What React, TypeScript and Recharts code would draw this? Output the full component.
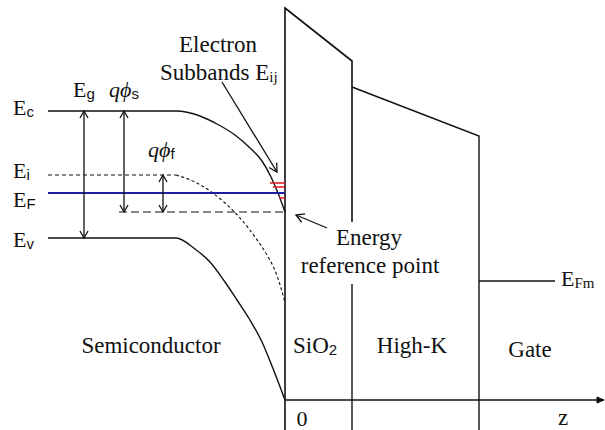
import { ComposedChart, Line, Scatter, XAxis, YAxis } from "recharts"

type Pt = { x: number; y: number }

// Band edges (x = depth, y = energy, both in px of the 605x430 frame)
const EC_BAND: Pt[] = [
  { x: 48, y: 111 }, { x: 176, y: 111 }, { x: 200, y: 116 }, { x: 217, y: 124 },
  { x: 235, y: 135 }, { x: 250, y: 148 }, { x: 262, y: 161 }, { x: 271, y: 177 },
  { x: 278, y: 193 }, { x: 285, y: 212 },
]
const EI_FLAT: Pt[] = [{ x: 48, y: 175 }, { x: 176, y: 175 }]
const EI_BEND: Pt[] = [
  { x: 176, y: 175 }, { x: 195, y: 182 }, { x: 210, y: 191 }, { x: 225, y: 203 },
  { x: 240, y: 218 }, { x: 255, y: 237 }, { x: 267, y: 255 }, { x: 276, y: 273 },
  { x: 281, y: 288 }, { x: 285, y: 303 },
]
const EF_LEVEL: Pt[] = [{ x: 48, y: 193 }, { x: 285, y: 193 }]
const EV_BAND: Pt[] = [
  { x: 48, y: 238 }, { x: 176, y: 238 }, { x: 195, y: 249 }, { x: 210, y: 262 },
  { x: 225, y: 282 }, { x: 237, y: 300 }, { x: 250, y: 320 }, { x: 262, y: 342 },
  { x: 272, y: 366 }, { x: 279, y: 384 }, { x: 285, y: 400 },
]
const SURFACE_REF: Pt[] = [{ x: 119, y: 212 }, { x: 285, y: 212 }]
const SUBBANDS: Pt[][] = [
  [{ x: 270, y: 183 }, { x: 285, y: 183 }],
  [{ x: 273, y: 187 }, { x: 285, y: 187 }],
  [{ x: 279, y: 198 }, { x: 285, y: 198 }],
]

// Gate stack outline
const INTERFACE: Pt[] = [{ x: 285, y: 430 }, { x: 285, y: 8 }, { x: 352, y: 61 }, { x: 352, y: 222 }]
const SIO2_HIGHK_LOW: Pt[] = [{ x: 352, y: 284 }, { x: 352, y: 430 }]
const HIGHK_TOP: Pt[] = [{ x: 352, y: 87 }, { x: 479, y: 136 }, { x: 479, y: 430 }]
const EFM_LEVEL: Pt[] = [{ x: 479, y: 281 }, { x: 555, y: 281 }]
const Z_AXIS: Pt[] = [{ x: 285, y: 400 }, { x: 604, y: 400 }]

// Arrows
const EG_ARROW: Pt[] = [{ x: 84, y: 111 }, { x: 84, y: 238 }]
const PHIS_ARROW: Pt[] = [{ x: 124, y: 111 }, { x: 124, y: 212 }]
const PHIF_ARROW: Pt[] = [{ x: 163, y: 175 }, { x: 163, y: 212 }]
const SUBBAND_POINTER: Pt[] = [{ x: 222, y: 82 }, { x: 277, y: 172 }]
const REF_POINTER: Pt[] = [{ x: 327, y: 228 }, { x: 296, y: 215 }]

type Lbl = {
  x: number
  y: number
  main: string
  sub?: string
  italic?: boolean
  subSans?: boolean
  anchor?: "start" | "middle"
  size?: number
}

const LABELS: Lbl[] = [
  { x: 13, y: 115, main: "E", sub: "c", subSans: true },
  { x: 73, y: 97, main: "E", sub: "g", subSans: true },
  { x: 109, y: 97, main: "qϕ", sub: "s", italic: true, subSans: true },
  { x: 148, y: 157, main: "qϕ", sub: "f", italic: true, subSans: true },
  { x: 13, y: 178, main: "E", sub: "i", subSans: true },
  { x: 13, y: 207, main: "E", sub: "F", subSans: true },
  { x: 13, y: 247, main: "E", sub: "v", subSans: true },
  { x: 218, y: 52, main: "Electron", anchor: "middle", size: 23 },
  { x: 160, y: 80, main: "Subbands E", sub: "ij", size: 23 },
  { x: 369, y: 245, main: "Energy", anchor: "middle", size: 23 },
  { x: 370, y: 273, main: "reference point", anchor: "middle", size: 23 },
  { x: 561, y: 286, main: "E", sub: "Fm" },
  { x: 151, y: 353, main: "Semiconductor", anchor: "middle", size: 23 },
  { x: 293, y: 353, main: "SiO", sub: "2", subSans: true, size: 23 },
  { x: 412, y: 353, main: "High-K", anchor: "middle", size: 23 },
  { x: 530, y: 357, main: "Gate", anchor: "middle", size: 23 },
  { x: 302, y: 426, main: "0", anchor: "middle" },
  { x: 563, y: 425, main: "z", anchor: "middle", size: 23 },
]

const INK = "#111"
const SERIF = '"Liberation Serif", "DejaVu Serif", serif'
const SANS = '"Liberation Sans", "DejaVu Sans", sans-serif'

// dot renderer that puts an arrow head on the chosen ends of a 2+ point line
function arrowDot(pts: Pt[], start: boolean, end: boolean, filled = false, len = 7, half = 4) {
  return (props: any) => {
    const { cx, cy, index } = props
    const key = `arrow-${index}`
    const last = pts.length - 1
    const atStart = start && index === 0
    const atEnd = end && index === last
    if (!atStart && !atEnd) return <g key={key} />
    const from = atEnd ? pts[last - 1] : pts[1]
    const to = atEnd ? pts[last] : pts[0]
    const a = Math.atan2(to.y - from.y, to.x - from.x)
    const bx = cx - len * Math.cos(a)
    const by = cy - len * Math.sin(a)
    const px = -Math.sin(a) * half
    const py = Math.cos(a) * half
    const d = `M${bx + px},${by + py} L${cx},${cy} L${bx - px},${by - py}`
    return filled ? (
      <path key={key} d={d + " Z"} fill={INK} stroke={INK} strokeWidth={1} />
    ) : (
      <path key={key} d={d} fill="none" stroke={INK} strokeWidth={1.3} />
    )
  }
}

const renderLabel = (p: any) => {
  const d = p.payload as Lbl
  const size = d.size ?? 22
  return (
    <text
      x={p.cx}
      y={p.cy}
      textAnchor={d.anchor ?? "start"}
      style={{ fontFamily: SERIF, fontSize: size, fontStyle: d.italic ? "italic" : "normal" }}
      fill={INK}
    >
      {d.main}
      {d.sub && (
        <tspan
          dy={2}
          style={{
            fontSize: d.subSans ? 15 : 15,
            fontFamily: d.subSans ? SANS : SERIF,
            fontStyle: "normal",
          }}
        >
          {d.sub}
        </tspan>
      )}
    </text>
  )
}

function seg(data: Pt[], key: string, extra: any = {}) {
  return (
    <Line
      key={key}
      data={data}
      dataKey="y"
      type="linear"
      stroke={INK}
      strokeWidth={1.4}
      dot={false}
      activeDot={false}
      isAnimationActive={false}
      {...extra}
    />
  )
}

export default function App() {
  return (
    <div style={{ position: "absolute", left: 0, top: 0, background: "#fff" }}>
      <ComposedChart width={605} height={430} margin={{ top: 0, right: 0, bottom: 0, left: 0 }}>
        <XAxis type="number" dataKey="x" domain={[0, 605]} hide allowDataOverflow />
        <YAxis type="number" dataKey="y" domain={[0, 430]} reversed hide allowDataOverflow />

        {seg(INTERFACE, "iface", { strokeWidth: 1.6 })}
        {seg(SIO2_HIGHK_LOW, "sio2low")}
        {seg(HIGHK_TOP, "hk")}
        {seg(EFM_LEVEL, "efm")}
        {seg(Z_AXIS, "zaxis", { dot: arrowDot(Z_AXIS, false, true, true, 7, 3) })}

        {seg(EC_BAND, "ec", { type: "monotone" })}
        {seg(EI_FLAT, "eiflat", { strokeWidth: 1.1, strokeDasharray: "4 3" })}
        {seg(EI_BEND, "eibend", { type: "monotone", strokeWidth: 1.1, strokeDasharray: "3 2.5" })}
        {seg(EV_BAND, "ev", { type: "monotone" })}
        {seg(SURFACE_REF, "sref", { strokeWidth: 1.2, strokeDasharray: "8 4" })}
        {seg(EF_LEVEL, "ef", { stroke: "#1c1c9e", strokeWidth: 1.8 })}
        {SUBBANDS.map((s, i) => seg(s, `sb${i}`, { stroke: "#e3222b", strokeWidth: 1.6 }))}

        {seg(EG_ARROW, "eg", { strokeWidth: 1.3, dot: arrowDot(EG_ARROW, true, true) })}
        {seg(PHIS_ARROW, "phis", { strokeWidth: 1.3, dot: arrowDot(PHIS_ARROW, true, true) })}
        {seg(PHIF_ARROW, "phif", { strokeWidth: 1.3, dot: arrowDot(PHIF_ARROW, true, true) })}
        {seg(SUBBAND_POINTER, "sbp", { strokeWidth: 1.3, dot: arrowDot(SUBBAND_POINTER, false, true, false, 8, 4.5) })}
        {seg(REF_POINTER, "refp", { strokeWidth: 1.3, dot: arrowDot(REF_POINTER, false, true, false, 8, 4.5) })}

        <Scatter data={LABELS} shape={renderLabel} isAnimationActive={false} />
      </ComposedChart>
    </div>
  )
}
